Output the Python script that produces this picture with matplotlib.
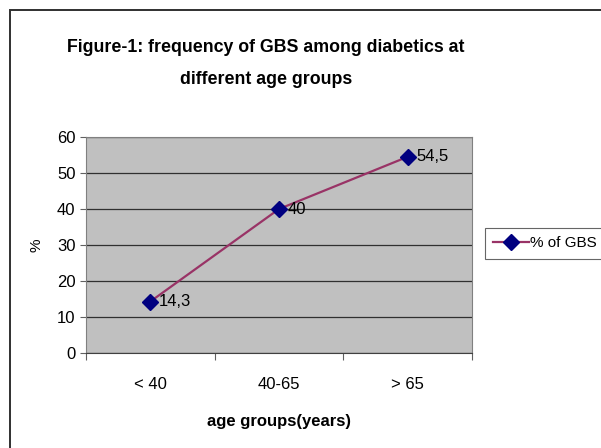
import numpy as np
import matplotlib.pyplot as plt
import matplotlib.patches as patches

# data
age_groups = ["< 40", "40-65", "> 65"]
gbs_percent = [14.3, 40, 54.5]
y_ticks = [0, 10, 20, 30, 40, 50, 60]

plt.rcParams['font.family'] = ['Liberation Sans', 'DejaVu Sans']

fig = plt.figure(figsize=(6.01, 4.48), dpi=100)
W, H = 601, 448

# outer chart border (right and bottom edges fall outside the picture)
fig.patches.append(patches.Rectangle((10.5 / W, -0.1), 1.2, 1.1 - 10.5 / H,
                                     transform=fig.transFigure, fill=False,
                                     edgecolor='#303030', linewidth=1.4, clip_on=False))

ax = fig.add_axes([86 / W, (H - 353) / H, (472 - 86) / W, (353 - 137) / H])
ax.set_facecolor('#C0C0C0')

x = np.arange(len(age_groups))
line, = ax.plot(x, gbs_percent, color='#993366', linewidth=1.6,
                marker='D', markersize=8.5, markerfacecolor='#000080',
                markeredgecolor='#000080', label='% of GBS', zorder=3)

for xi, v in zip(x, gbs_percent):
    ax.annotate(f"{v:g}".replace('.', ','), (xi, v), xytext=(6, 0),
                textcoords='offset points', va='center', ha='left', fontsize=12)

ax.set_xlim(-0.5, 2.5)
ax.set_ylim(0, 60)
ax.set_yticks(y_ticks)
ax.tick_params(axis='y', labelsize=12, length=4, color='#606060')
ax.yaxis.grid(True, color='#303030', linewidth=0.9)
ax.set_axisbelow(True)

# category ticks between groups, labels centered
ax.set_xticks(np.arange(len(age_groups) + 1) - 0.5)
ax.set_xticklabels([])
ax.set_xticks(x, minor=True)
ax.set_xticklabels(age_groups, minor=True, fontsize=12)
ax.tick_params(axis='x', which='major', length=5, color='#606060')
ax.tick_params(axis='x', which='minor', length=0, pad=17)

for s in ax.spines.values():
    s.set_color('#808080')
ax.spines['bottom'].set_color('#404040')

ax.set_xlabel("age groups(years)", fontsize=12, fontweight='bold', labelpad=16)
ax.set_ylabel("%", fontsize=11, labelpad=10)

fig.text(266 / W, 1 - 47 / H, "Figure-1: frequency of GBS among diabetics at",
         ha='center', va='center', fontsize=12.8, fontweight='bold')
fig.text(266 / W, 1 - 80 / H, "different age groups",
         ha='center', va='center', fontsize=12.8, fontweight='bold')

leg = fig.legend(handles=[line], loc='upper left', bbox_to_anchor=(485 / W, 1 - 228 / H),
                 frameon=True, fancybox=False, fontsize=11, handlelength=2.3,
                 borderpad=0.55, handletextpad=0.1, borderaxespad=0)
leg.get_frame().set_edgecolor('#404040')
leg.get_frame().set_linewidth(0.8)

fig.savefig("out.png", dpi=100)
